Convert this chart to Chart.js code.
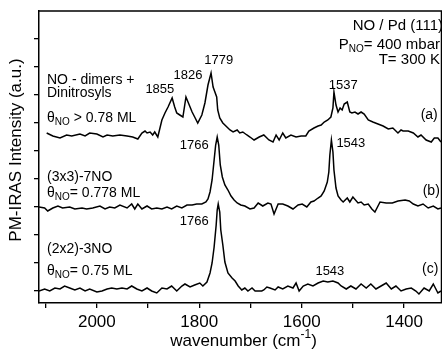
<!DOCTYPE html>
<html>
<head>
<meta charset="utf-8">
<script src="https://cdn.jsdelivr.net/npm/chart.js@4.4.0/dist/chart.umd.min.js"></script>
<style>
  html, body { margin: 0; padding: 0; background: #fff; }
  #wrap { width: 442px; height: 352px; }
</style>
</head>
<body>
<div id="wrap"><canvas id="spectra" width="442" height="352"></canvas></div>
<script>
// Spectrum (a): NO dimers + dinitrosyls, theta > 0.78 ML
const wnA = [2098,2086,2072,2059,2049,2033,2023,2014,2000,1988,1980,1969,1955,1941,1930,1920,1912,1906,1902,1896,
  1891,1887,1881,1873,1867,1861,1853,1848,1844,1838,1832,1826,1822,1814,1809,1803,1795,1789,1783,1777,
  1773,1766,1764,1760,1754,1746,1740,1734,1726,1721,1715,1707,1701,1693,1683,1674,1664,1656,1650,1644,
  1637,1631,1621,1611,1601,1592,1586,1576,1568,1562,1556,1549,1543,1539,1537,1533,1529,1525,1521,1517,
  1511,1506,1502,1496,1490,1484,1478,1470,1461,1451,1441,1431,1422,1412,1406,1402,1392,1382,1373,1367,
  1357,1347,1341,1334,1328];
const intA = [158,155,153,156,155,157,155,158,157,154,156,155,156,155,154,152,158,160,158,159,
  156,159,154,171,178,184,193,184,178,176,174,194,189,179,174,168,176,188,206,218,
  204,194,181,173,168,164,161,159,161,158,159,156,154,151,154,156,151,149,156,151,
  158,153,156,154,155,155,160,163,165,166,169,171,174,183,199,186,179,183,181,187,
  189,179,178,179,177,179,177,171,169,167,165,162,163,158,161,160,160,158,154,156,
  151,149,153,153,149];

// Spectrum (b): (3x3)-7NO, theta = 0.778 ML
const wnB = [2113,2102,2096,2086,2076,2067,2053,2043,2029,2020,2008,1994,1984,1975,1965,1955,1941,1932,1926,1920,
  1912,1902,1893,1883,1873,1863,1854,1844,1834,1824,1814,1805,1795,1787,1783,1779,1775,1771,1768,1765,
  1762,1759,1755,1750,1744,1738,1732,1726,1719,1711,1701,1693,1685,1676,1666,1660,1654,1646,1637,1627,
  1617,1607,1599,1590,1582,1576,1568,1562,1556,1550,1547,1545,1542,1539,1537,1533,1529,1523,1519,1511,
  1506,1500,1490,1484,1478,1470,1463,1457,1447,1435,1423,1412,1398,1390,1382,1373,1363,1353,1343,1334,
  1328];
const intB = [84,83,80,83,85,83,84,82,83,82,83,85,82,84,83,86,83,87,82,87,
  82,85,82,83,82,84,82,85,83,86,86,87,87,89,92,99,111,131,146,154,
  146,126,114,106,101,95,91,88,86,85,82,83,88,85,88,87,77,87,87,85,
  82,86,87,84,89,90,93,95,100,109,119,136,151,139,121,103,95,91,89,93,
  89,94,88,89,86,87,82,79,89,88,88,90,91,90,87,85,87,83,85,82,
  83];

// Spectrum (c): (2x2)-3NO, theta = 0.75 ML
const wnC = [2113,2102,2092,2082,2072,2063,2053,2043,2033,2023,2014,2000,1990,1980,1971,1961,1951,1941,1932,1922,
  1912,1902,1893,1883,1873,1863,1854,1844,1834,1828,1818,1809,1799,1793,1785,1779,1775,1771,1767,1765,
  1763,1760,1758,1754,1750,1744,1736,1730,1724,1717,1711,1705,1697,1691,1685,1678,1674,1668,1662,1652,
  1646,1637,1627,1617,1611,1605,1597,1588,1578,1568,1558,1549,1539,1529,1523,1513,1504,1494,1484,1474,
  1465,1455,1445,1435,1425,1416,1406,1396,1386,1377,1371,1361,1351,1343,1334,1328];
const intC = [0,2,0,3,2,5,3,1,3,0,2,-1,0,2,3,2,3,2,5,2,
  0,3,0,-2,3,2,5,0,5,7,4,6,8,5,9,18,28,44,66,81,
  87,79,61,46,29,18,13,10,5,1,3,0,3,0,0,0,1,4,3,1,
  4,2,5,3,8,0,5,7,5,8,10,9,10,8,5,2,5,2,7,3,
  7,2,5,8,2,5,0,2,3,0,-3,3,0,7,-2,0];

const xTickValues = [1400, 1500, 1600, 1700, 1800, 1900, 2000, 2100];
const xTickLabels = [1400, 1600, 1800, 2000];
const yTickValues = [0, 28, 56, 84, 112, 140, 168, 196, 224, 252];

const FONT = '"Liberation Sans", Arial, sans-serif';

const toPoints = (wn, vals) => wn.map((x, i) => ({ x, y: vals[i] }));

// text notes, placed in data coordinates
const peakNotes = [
  { text: '1855', wn: 1877, val: 202 },
  { text: '1826', wn: 1822, val: 216 },
  { text: '1779', wn: 1762, val: 231 },
  { text: '1537', wn: 1519, val: 206 },
  { text: '1766', wn: 1810, val: 146 },
  { text: '1543', wn: 1504, val: 148 },
  { text: '1766', wn: 1810, val: 70 },
  { text: '1543', wn: 1545, val: 20 },
];
const traceNotes = [
  { text: '(a)', wn: 1351, val: 176 },
  { text: '(b)', wn: 1347, val: 100 },
  { text: '(c)', wn: 1349, val: 22 },
];
const leftNotes = [
  { parts: [['NO - dimers +']], val: 211 },
  { parts: [['Dinitrosyls']], val: 198 },
  { parts: [['\u03B8'], ['NO', 'sub'], [' > 0.78 ML']], val: 173 },
  { parts: [['(3x3)-7NO']], val: 114 },
  { parts: [['\u03B8'], ['NO', 'sub'], ['= 0.778 ML']], val: 98 },
  { parts: [['(2x2)-3NO']], val: 42 },
  { parts: [['\u03B8'], ['NO', 'sub'], ['= 0.75 ML']], val: 20 },
];
const rightNotes = [
  { parts: [['NO / Pd (111)']], val: 265, size: 15, right: 443 },
  { parts: [['P'], ['NO', 'sub'], ['= 400 mbar']], val: 246, size: 15, right: 440 },
  { parts: [['T= 300 K']], val: 231, size: 15, right: 440 },
];

function drawRich(ctx, parts, x, y, align, size) {
  const subSize = Math.round(size * 0.68);
  const isSmall = p => p[1] === 'sub' || p[1] === 'sup';
  const widths = parts.map(p => {
    ctx.font = `${isSmall(p) ? subSize : size}px ${FONT}`;
    return ctx.measureText(p[0]).width;
  });
  const total = widths.reduce((a, b) => a + b, 0);
  let cx = align === 'right' ? x - total : align === 'center' ? x - total / 2 : x;
  parts.forEach((p, i) => {
    ctx.font = `${isSmall(p) ? subSize : size}px ${FONT}`;
    const dy = p[1] === 'sub' ? size * 0.3 : p[1] === 'sup' ? -size * 0.38 : 0;
    ctx.fillText(p[0], cx, y + dy);
    cx += widths[i];
  });
}

const notesPlugin = {
  id: 'notes',
  afterDraw(chart) {
    const { ctx, chartArea: area, scales: { x, y } } = chart;
    ctx.save();
    // frame top + right
    ctx.strokeStyle = '#000';
    ctx.lineWidth = 1.5;
    ctx.beginPath();
    ctx.moveTo(area.left, area.top);
    ctx.lineTo(area.right - 0.5, area.top);
    ctx.lineTo(area.right - 0.5, area.bottom);
    ctx.stroke();

    ctx.fillStyle = '#000';
    ctx.textBaseline = 'middle';
    ctx.textAlign = 'left';
    peakNotes.forEach(n => drawRich(ctx, [[n.text]], x.getPixelForValue(n.wn), y.getPixelForValue(n.val), 'center', 13));
    traceNotes.forEach(n => drawRich(ctx, [[n.text]], x.getPixelForValue(n.wn), y.getPixelForValue(n.val), 'center', 14));
    leftNotes.forEach(n => drawRich(ctx, n.parts, area.left + 8, y.getPixelForValue(n.val), 'left', 14));
    rightNotes.forEach(n => drawRich(ctx, n.parts, n.right, y.getPixelForValue(n.val), 'right', n.size));

    // axis titles
    drawRich(ctx, [['wavenumber (cm'], ['-1', 'sup'], [')']], (area.left + area.right) / 2 + 3, chart.height - 11, 'center', 17);
    ctx.translate(16, (area.top + area.bottom) / 2 - 7);
    ctx.rotate(-Math.PI / 2);
    drawRich(ctx, [['PM-IRAS Intensity (a.u.)']], 0, 0, 'center', 17);
    ctx.restore();
  }
};

const lineStyle = { borderColor: '#000', borderWidth: 1.5, pointRadius: 0, tension: 0, fill: false };

new Chart(document.getElementById('spectra'), {
  type: 'line',
  data: {
    datasets: [
      { label: '(a)', data: toPoints(wnA, intA), ...lineStyle },
      { label: '(b)', data: toPoints(wnB, intB), ...lineStyle },
      { label: '(c)', data: toPoints(wnC, intC), ...lineStyle },
    ]
  },
  options: {
    responsive: false,
    animation: false,
    layout: { padding: { top: 11, right: 0, left: 0, bottom: 0 } },
    plugins: { legend: { display: false }, tooltip: { enabled: false } },
    scales: {
      x: {
        type: 'linear',
        reverse: true,
        min: 1326,
        max: 2113,
        afterBuildTicks: s => { s.ticks = xTickValues.map(v => ({ value: v })); },
        afterFit: s => { s.height = 49; },
        ticks: {
          color: '#000',
          padding: 4,
          maxRotation: 0,
          autoSkip: false,
          font: { family: FONT, size: 17 },
          callback: v => xTickLabels.includes(v) ? String(v) : ''
        },
        grid: { drawOnChartArea: false, tickLength: 5, color: '#000', lineWidth: 1.3 },
        border: { display: true, color: '#000', width: 1.5 }
      },
      y: {
        min: -12,
        max: 280,
        afterBuildTicks: s => { s.ticks = yTickValues.map(v => ({ value: v })); },
        afterFit: s => { s.width = 39; },
        ticks: { display: false },
        grid: { drawOnChartArea: false, tickLength: 5, color: '#000', lineWidth: 1.3 },
        border: { display: true, color: '#000', width: 1.5 }
      }
    }
  },
  plugins: [notesPlugin]
});
</script>
</body>
</html>
